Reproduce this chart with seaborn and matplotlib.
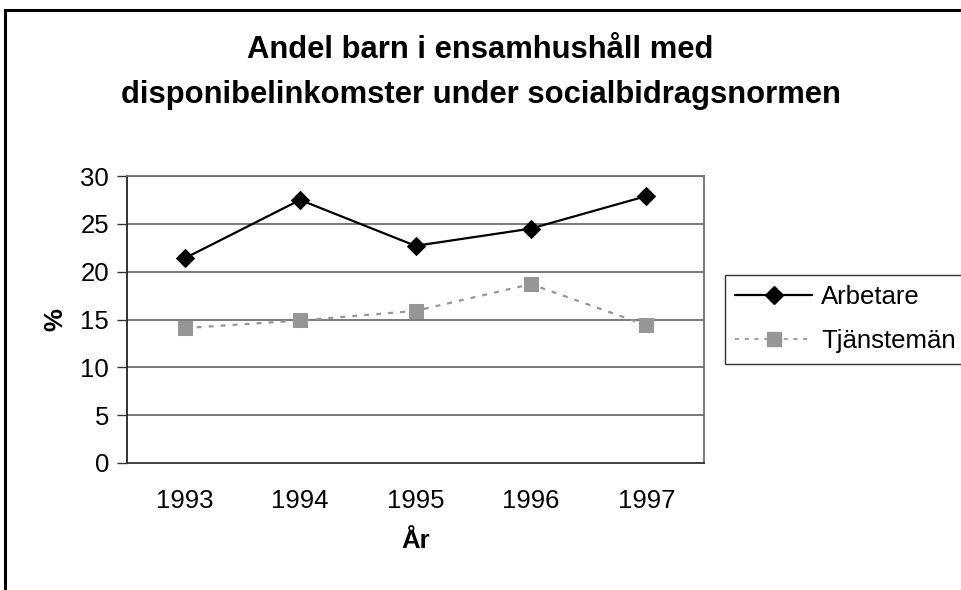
import matplotlib
matplotlib.use("Agg")
import matplotlib.pyplot as plt
import seaborn as sns
import pandas as pd
from matplotlib.patches import Rectangle
from matplotlib.lines import Line2D

years = ["1993", "1994", "1995", "1996", "1997"]
arbetare = [21.4, 27.5, 22.7, 24.5, 27.9]
tjanstemen = [14.1, 14.9, 15.9, 18.7, 14.4]
series_names = ["Arbetare", "Tjänstemän"]
y_ticks = [0, 5, 10, 15, 20, 25, 30]

sns.set_theme(style="white")
plt.rcParams['font.family'] = ['Liberation Sans', 'DejaVu Sans']
plt.rcParams['text.color'] = 'black'
plt.rcParams['axes.labelcolor'] = 'black'
plt.rcParams['xtick.color'] = 'black'
plt.rcParams['ytick.color'] = 'black'

df = pd.DataFrame({"År": years + years,
                   "value": arbetare + tjanstemen,
                   "serie": [series_names[0]] * 5 + [series_names[1]] * 5})

fig = plt.figure(figsize=(9.61, 5.90), dpi=100)
ax = fig.add_axes([127 / 961, 1 - 463 / 590, (704 - 127) / 961, (463 - 176) / 590])

gray = "#969696"
sub_a = df[df.serie == series_names[0]]
sub_t = df[df.serie == series_names[1]]
sns.lineplot(data=sub_t, x="År", y="value", ax=ax, color=gray, lw=1.6,
             marker="s", markersize=10, markeredgecolor=gray, markerfacecolor=gray,
             linestyle=(0, (2.2, 3.2)), legend=False, zorder=3)
sns.lineplot(data=sub_a, x="År", y="value", ax=ax, color="black", lw=1.6,
             marker="D", markersize=9, markeredgecolor="black", markerfacecolor="black",
             legend=False, zorder=4)

ax.set_xlim(-0.5, 4.5)
ax.set_ylim(0, 30)
ax.set_yticks(y_ticks)
ax.set_yticklabels([str(v) for v in y_ticks], fontsize=18.5)
ax.set_xticks(range(len(years)))
ax.set_xticklabels(years, fontsize=18.5)
ax.set_xticks([i - 0.5 for i in range(len(years) + 1)], minor=True)
ax.tick_params(axis="x", which="major", length=0, pad=19)
ax.tick_params(axis="x", which="minor", length=8, width=1, color="#333333", direction="out")
ax.tick_params(axis="y", which="major", length=7, width=1, color="#333333", direction="out", pad=6, left=True)

for v in y_ticks[1:]:
    ax.axhline(v, color="#6e6e6e", lw=1.3, zorder=1)

for s in ["top", "right"]:
    ax.spines[s].set_color("#6e6e6e")
    ax.spines[s].set_linewidth(1.3)
ax.spines["left"].set_color("#222222")
ax.spines["bottom"].set_color("#333333")
ax.spines["left"].set_linewidth(1.3)
ax.spines["bottom"].set_linewidth(1.3)

ax.set_xlabel("År", fontsize=18.5, fontweight="bold", labelpad=11)
ax.set_ylabel("%", fontsize=18.5, fontweight="bold", labelpad=9)
ax.grid(False)

fig.text(0.5, 1 - 50 / 590, "Andel barn i ensamhushåll med", ha="center", va="center",
         fontsize=22.3, fontweight="bold")
fig.text(0.5, 1 - 95 / 590, "disponibelinkomster under socialbidragsnormen", ha="center", va="center",
         fontsize=22.3, fontweight="bold")

handles = [Line2D([], [], color="black", lw=1.6, marker="D", markersize=9),
           Line2D([], [], color=gray, lw=1.3, linestyle=(0, (2.2, 3.2)), marker="s", markersize=10)]
leg = fig.legend(handles, series_names, loc="upper left",
                 bbox_to_anchor=(725 / 961, 1 - 275 / 590), fontsize=18.5,
                 frameon=True, fancybox=False, shadow=False, handlelength=3.0,
                 handletextpad=0.35, labelspacing=0.78, borderpad=0.4, borderaxespad=0)
leg.get_frame().set_edgecolor("black")
leg.get_frame().set_linewidth(1.0)

fig.patches.append(Rectangle((5 / 961, -0.1), 1.2, 1 - 10 / 590 + 0.1, transform=fig.transFigure,
                             fill=False, edgecolor="black", lw=2.2, zorder=10))

fig.savefig("out.png", dpi=100)
